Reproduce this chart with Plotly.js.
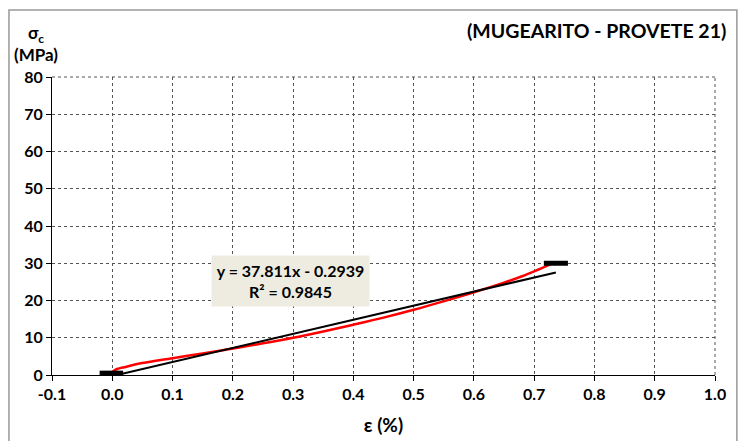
<!DOCTYPE html>
<html><head><meta charset="utf-8">
<script src="https://cdn.plot.ly/plotly-3.0.1.min.js"></script>
<style>body{margin:0;background:#fff}#c{width:743px;height:441px}</style>
</head><body><div id="c"></div>
<script>
// Red measured curve
var strainX = [0.0, 0.005, 0.01, 0.02, 0.05, 0.1, 0.15, 0.2, 0.25, 0.3, 0.35, 0.4, 0.45, 0.5, 0.55, 0.6, 0.65, 0.68, 0.7, 0.72, 0.73];
var stressY = [0.8, 1.4, 1.7, 2.1, 3.2, 4.5, 5.8, 7.1, 8.5, 10.0, 11.7, 13.5, 15.4, 17.5, 19.8, 22.2, 24.8, 26.5, 27.8, 29.2, 30.0];
// Trend line endpoints (x) and coefficients
var trendX = [0.0078, 0.736];
var slope = 37.811, intercept = -0.2939;
var trendY = trendX.map(function(x){return slope*x + intercept;});
// Black bars (start / end markers)
var barStartX = [-0.021, 0.018], barStartY = [0.5, 0.5];
var barEndX = [0.716, 0.756], barEndY = [30, 30];
var xTicks = [-0.1,0,0.1,0.2,0.3,0.4,0.5,0.6,0.7,0.8,0.9,1.0];
var xTickText = ['-0.1','0.0','0.1','0.2','0.3','0.4','0.5','0.6','0.7','0.8','0.9','1.0'];
var yTicks = [0,10,20,30,40,50,60,70,80];

var F = 'Lato, "Open Sans", sans-serif';
var traces = [
 {x: strainX, y: stressY, mode:'lines', line:{color:'#ff0000', width:2.5, shape:'spline'}, hoverinfo:'none'},
 {x: trendX, y: trendY, mode:'lines', line:{color:'#000', width:2}, hoverinfo:'none'},
 {x: barStartX, y: barStartY, mode:'lines', line:{color:'#000', width:5}, hoverinfo:'none'},
 {x: barEndX, y: barEndY, mode:'lines', line:{color:'#000', width:5}, hoverinfo:'none'}
];
var layout = {
 width:743, height:441, showlegend:false,
 margin:{l:52, r:28, t:77, b:66},
 paper_bgcolor:'#fff', plot_bgcolor:'#fff',
 font:{family:F, color:'#000'},
 xaxis:{range:[-0.1,1.0], tickvals:xTicks, ticktext:xTickText, showgrid:true, gridcolor:'#555', griddash:'dot', gridwidth:1,
   showline:true, linecolor:'#000', linewidth:1, ticks:'outside', ticklen:5, tickcolor:'#000',
   tickfont:{size:16, family:F, weight:'bold'}, zeroline:false, fixedrange:true,
   title:{text:'ε (%)', font:{size:19, family:F, weight:'bold'}, standoff:16}},
 yaxis:{range:[0,80], tickvals:yTicks, showgrid:true, gridcolor:'#555', griddash:'dot', gridwidth:1,
   showline:true, linecolor:'#000', linewidth:1, ticks:'outside', ticklen:5, tickcolor:'#000',
   tickfont:{size:16, family:F, weight:'bold'}, zeroline:false, fixedrange:true},
 annotations:[
  {xref:'paper', yref:'paper', x:1.02, y:1.20, xanchor:'right', yanchor:'top', showarrow:false,
   text:'(MUGEARITO - PROVETE 21)', font:{size:19.5, family:F, weight:'bold'}},
  {xref:'paper', yref:'paper', x:-0.024, y:1.19, xanchor:'center', yanchor:'top', showarrow:false,
   text:'σ<sub>c</sub><br>(MPa)', font:{size:17, family:F, weight:'bold'}, align:'center'},
  {xref:'x', yref:'y', x:0.296, y:25.2, showarrow:false, text:'y = 37.811x - 0.2939<br>R² = 0.9845',
   font:{size:16, family:F, weight:'bold'}, bgcolor:'#eeece1', width:155, height:48, align:'center'}
 ],
 shapes:[
  {type:'rect', xref:'paper', yref:'paper', x0:-0.0649, x1:1.033, y0:-0.3, y1:1.225, line:{color:'#999', width:1.5}, layer:'below'},
  {type:'line', xref:'paper', yref:'paper', x0:0, x1:1, y0:1, y1:1, line:{color:'#555', width:1, dash:'dot'}},
  {type:'line', xref:'paper', yref:'paper', x0:1, x1:1, y0:0, y1:1, line:{color:'#555', width:1, dash:'dot'}}
 ]
};
Plotly.newPlot('c', traces, layout, {staticPlot:true, displayModeBar:false});
</script></body></html>
